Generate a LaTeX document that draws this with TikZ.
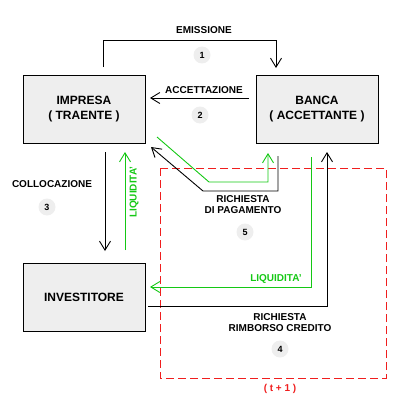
\documentclass[tikz,border=0pt]{standalone}
\usepackage{fontspec}
\setmainfont{Liberation Sans}
\usepackage{xcolor}
\usetikzlibrary{arrows.meta, positioning, calc}

\definecolor{liqgreen}{RGB}{20,200,20}
\definecolor{boxgray}{RGB}{238,238,238}
\definecolor{tred}{RGB}{240,30,30}

\begin{document}
\begin{tikzpicture}[
    x=1pt, y=-1pt,
    box/.style={rectangle, draw, line width=1pt, fill=boxgray, minimum width=122pt, minimum height=68pt, align=center, font=\fontsize{12}{15}\selectfont\bfseries},
    lbl/.style={align=center, font=\fontsize{10}{11}\selectfont\bfseries},
    num/.style={circle, fill=boxgray, minimum size=17pt, inner sep=0pt, font=\fontsize{9}{9}\selectfont\bfseries},
    arrow/.style={-{Straight Barb[length=9pt,width=11pt]}, line width=0.9pt},
    liq/.style={arrow, liqgreen}
]
\useasboundingbox (0,0) rectangle (400,420);

% Boxes
\node[box] (impresa) at (84,109) {IMPRESA\\( TRAENTE )};
\node[box] (banca) at (317,109) {BANCA\\( ACCETTANTE )};
\node[box] (investitore) at (84,297) {INVESTITORE};

% Period (t + 1)
\draw[tred, line width=0.9pt, dash pattern=on 8pt off 4pt] (160,168) rectangle (386,378);
\node[lbl, text=tred] (periodo) at (280,389) {( t + 1 )};

% 1 - Emissione
\coordinate (e1) at (103,67);
\coordinate (e2) at (276,68);
\draw[arrow] (e1) -- ++(0,-27) -| (e2);
\node[lbl] (emissione) at (204,30) {EMISSIONE};
\node[num] (n1) at (202,55) {1};

% 2 - Accettazione
\coordinate (a1) at (249,98);
\coordinate (a2) at (150,98);
\draw[arrow] (a1) -- (a2);
\node[lbl] (accettazione) at (204,90) {ACCETTAZIONE};
\node[num] (n2) at (200,115) {2};

% 3 - Collocazione
\coordinate (c1) at (105,152);
\coordinate (c2) at (105,251);
\coordinate (l1) at (125,250);
\coordinate (l2) at (125,152);
\draw[arrow] (c1) -- (c2);
\draw[liq] (l1) -- (l2);
\node[lbl] (collocazione) at (52,184) {COLLOCAZIONE};
\node[num] (n3) at (47,207) {3};
\node[lbl, text=liqgreen, rotate=90] (liqv) at (134,192) {LIQUIDITA'};

% 5 - Richiesta di pagamento
\coordinate (p1) at (278,156);
\coordinate (p2) at (151,147);
\coordinate (g1) at (157,137);
\coordinate (g2) at (268,153);
\draw[arrow] (p1) -- (278,191) -- (203,191) -- (p2);
\draw[liq] (g1) -- (209,182) -- (268,182) -- (g2);
\node[lbl] (pagamento) at (243,205) {RICHIESTA\\DI PAGAMENTO};
\node[num] (n5) at (245,232) {5};

% 4 - Richiesta rimborso credito
\coordinate (g3) at (311,157);
\coordinate (g4) at (150,287);
\coordinate (r1) at (148,306);
\coordinate (r2) at (327,152);
\draw[liq] (g3) |- (g4);
\draw[arrow] (r1) -| (r2);
\node[lbl, text=liqgreen] (liqh) at (276,279) {LIQUIDITA'};
\node[lbl] (rimborso) at (280,323) {RICHIESTA\\RIMBORSO CREDITO};
\node[num] (n4) at (280,349) {4};

\end{tikzpicture}
\end{document}
